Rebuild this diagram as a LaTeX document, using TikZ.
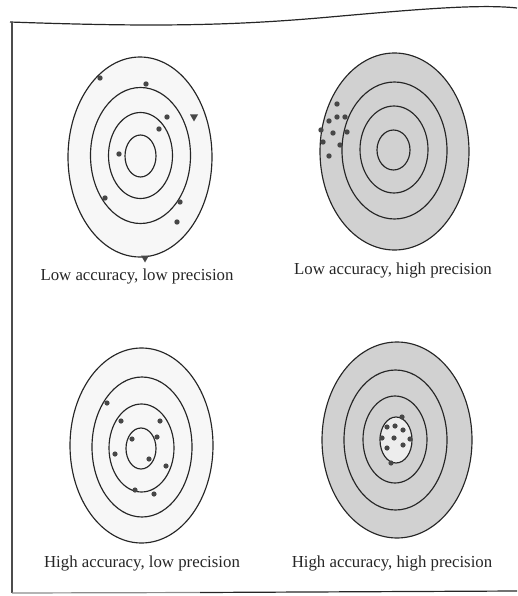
\documentclass[tikz,border=0pt]{standalone}
\usepackage{fontspec}
\setmainfont{Liberation Serif}
\begin{document}
\begin{tikzpicture}[x=1pt,y=-1pt,
  ring/.style={line width=1.15pt, draw=black!85},
  plainfill/.style={fill=black!3},
  shadefill/.style={fill=black!18},
  hit/.style={fill=black!72},
  frameline/.style={line width=1.2pt, draw=black!85},
  caption/.style={anchor=base, inner sep=0pt, text=black!85, font=\fontsize{16.8}{20}\selectfont}]
\useasboundingbox (0,0) rectangle (517,596);

% frame
\coordinate (tl) at (10,22);
\coordinate (tr) at (517,8);
\coordinate (bl) at (12,593);
\coordinate (br) at (517,591);
\draw[frameline] (tl) .. controls (150,27) and (230,26) .. (330,17) .. controls (420,9) and (480,4) .. (tr);
\draw[frameline, draw=black!70] (12,22) -- (bl);
\draw[frameline, draw=black!45] (bl) -- (200,592.5);
\draw[frameline] (200,592.5) -- (br);

% target 1 (top-left)
\filldraw[ring, plainfill] (140,157) ellipse [x radius=72, y radius=100];
\draw[ring] (140.5,155.5) ellipse [x radius=50, y radius=68];
\draw[ring] (140.5,155.5) ellipse [x radius=32, y radius=43];
\draw[ring] (140.5,156) ellipse [x radius=15.5, y radius=21];
\foreach \p in {(100,78),(146,84),(167,117),(159,129),(119,154),(105,198),(180,202),(177,222)}
  \fill[hit] \p circle (2.7);
\fill[hit] (190,114.5) -- (198,114.5) -- (194,121.5) -- cycle;
\fill[hit] (141,255.5) -- (149,255.5) -- (145,262.5) -- cycle;

% target 2 (top-right)
\filldraw[ring, shadefill] (394.5,151.5) ellipse [x radius=74.5, y radius=98.5];
\draw[ring] (394.5,150.5) ellipse [x radius=52.5, y radius=68.5];
\draw[ring] (394,149.5) ellipse [x radius=34, y radius=43.5];
\draw[ring] (393.5,150) ellipse [x radius=16.5, y radius=20];
\foreach \p in {(337,104),(337,117),(345,117),(329,121),(321,130),(333,133),(347,132),(323,142),(340,145),(329,156)}
  \fill[hit] \p circle (2.7);

% target 3 (bottom-left)
\filldraw[ring, plainfill] (141.5,445.5) ellipse [x radius=71.5, y radius=97.5];
\draw[ring] (142,447) ellipse [x radius=50, y radius=70];
\draw[ring] (141.5,448) ellipse [x radius=32.5, y radius=44];
\draw[ring] (141,448.5) ellipse [x radius=15, y radius=20.5];
\foreach \p in {(107,403),(121,421),(160,421),(132,439),(157,437),(115,454),(149,459),(166,466),(135,490),(154,494)}
  \fill[hit] \p circle (2.6);

% target 4 (bottom-right)
\filldraw[ring, shadefill] (397,440) ellipse [x radius=75, y radius=98];
\draw[ring] (395.5,440) ellipse [x radius=51.5, y radius=70];
\draw[ring] (395,439.5) ellipse [x radius=32, y radius=43.5];
\filldraw[ring, fill=black!7] (396,440) ellipse [x radius=16, y radius=23];
\foreach \p in {(402,417),(387,427),(395,426),(403,430),(382,438),(394,438),(410,439),(403,445),(387,448),(391,463)}
  \fill[hit] \p circle (2.6);

% captions
\node[caption] (c1) at (137,280) {Low accuracy, low precision};
\node[caption] (c2) at (393,274) {Low accuracy, high precision};
\node[caption] (c3) at (142,567) {High accuracy, low precision};
\node[caption] (c4) at (392,567) {High accuracy, high precision};
\end{tikzpicture}
\end{document}
